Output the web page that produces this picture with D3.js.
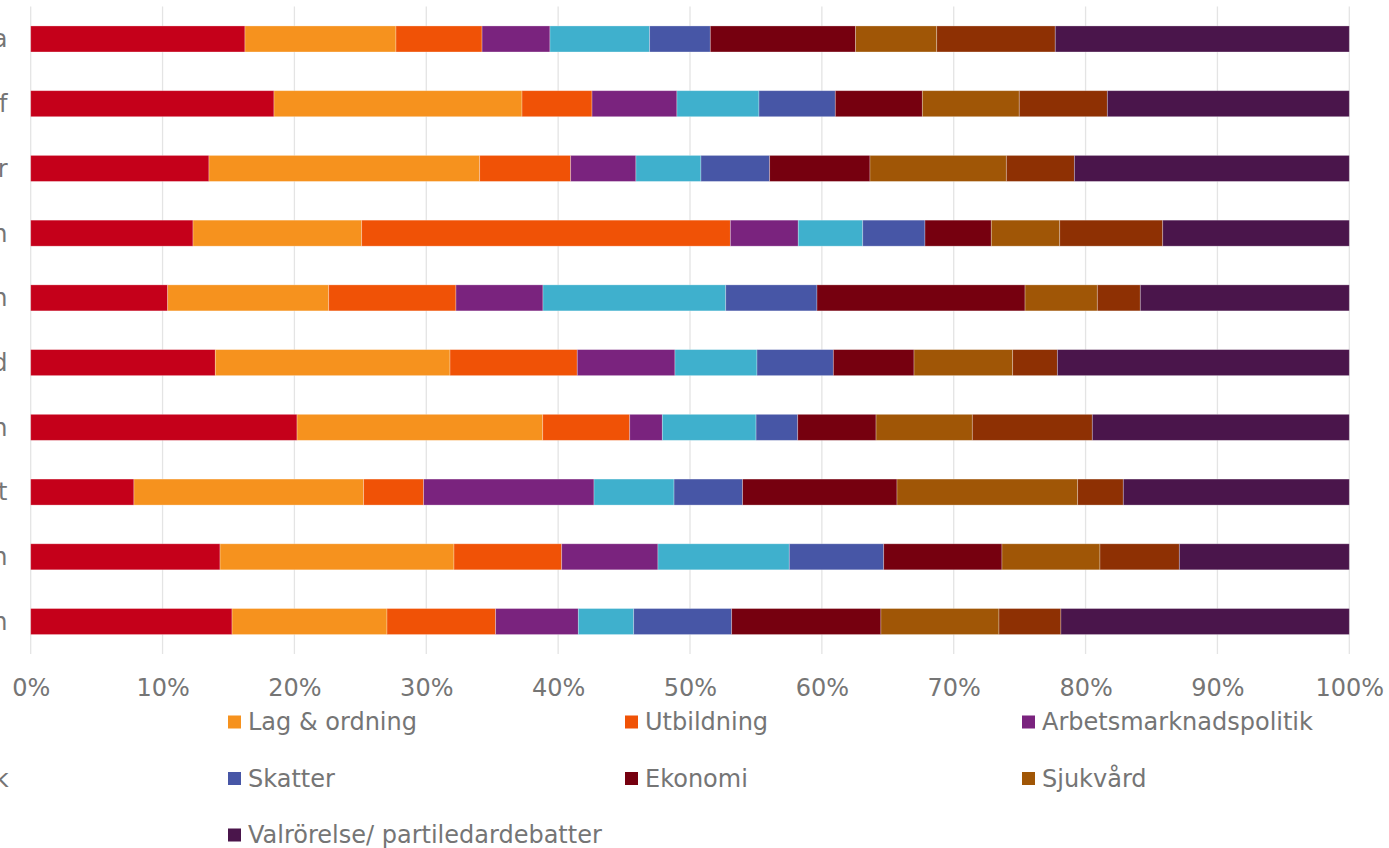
<!DOCTYPE html>
<html>
<head>
<meta charset="utf-8">
<script src="https://cdn.jsdelivr.net/npm/d3@7"></script>
<style>
  html, body { margin: 0; padding: 0; background: #fff; overflow: hidden; }
  svg { display: block; font-family: "DejaVu Sans", Verdana, sans-serif; }
</style>
</head>
<body>
<svg id="chart" width="1389" height="848"></svg>
<script>
// ---------- data ----------
const categories = ["Samtliga", "Annie Lööf", "Ebba Busch Thor", "Gustav Fridolin", "Isabella Lövin",
  "Jan Björklund", "Jimmie Åkesson", "Jonas Sjöstedt", "Ulf Kristersson", "Stefan Löfven"];

const seriesNames = ["Migration", "Lag & ordning", "Utbildning", "Arbetsmarknadspolitik", "Familjepolitik",
  "Skatter", "Ekonomi", "Sjukvård", "Miljö", "Valrörelse/ partiledardebatter"];

const migration   = [16.25, 18.45, 13.52, 12.31, 10.39, 14.00, 20.20, 7.83, 14.36, 15.27];
const lagOrdning  = [11.45, 18.81, 20.53, 12.79, 12.21, 17.80, 18.63, 17.42, 17.74, 11.75];
const utbildning  = [6.53, 5.31, 6.90, 27.96, 9.65, 9.65, 6.60, 4.55, 8.17, 8.24];
const arbetsmarknad = [5.15, 6.44, 4.95, 5.15, 6.60, 7.41, 2.47, 12.92, 7.30, 6.27];
const familj      = [7.56, 6.22, 4.93, 4.89, 13.86, 6.22, 7.11, 6.07, 9.96, 4.20];
const skatter     = [4.60, 5.79, 5.21, 4.72, 6.92, 5.79, 3.16, 5.20, 7.16, 7.43];
const ekonomi     = [11.02, 6.60, 7.61, 5.03, 15.78, 6.12, 5.94, 11.71, 8.97, 11.32];
const sjukvard    = [6.15, 7.35, 10.34, 5.19, 5.48, 7.48, 7.30, 13.70, 7.43, 8.95];
const miljo       = [8.99, 6.68, 5.16, 7.81, 3.26, 3.39, 9.10, 3.46, 6.02, 4.70];
const valrorelse  = [22.30, 18.35, 20.85, 14.15, 15.85, 22.14, 19.49, 17.14, 12.89, 21.87];

const colors = ["#C5001A", "#F6921E", "#F05206", "#7A237E", "#3FB0CD",
  "#4756A6", "#76000F", "#A05606", "#8E3003", "#4A154B"];

const tickValues = [0, 0.1, 0.2, 0.3, 0.4, 0.5, 0.6, 0.7, 0.8, 0.9, 1.0];

// ---------- build table ----------
const seriesValues = [migration, lagOrdning, utbildning, arbetsmarknad, familj,
  skatter, ekonomi, sjukvard, miljo, valrorelse];
const table = categories.map((c, i) => {
  const row = { cat: c };
  seriesNames.forEach((s, j) => row[s] = seriesValues[j][i]);
  return row;
});
const stacked = d3.stack().keys(seriesNames).offset(d3.stackOffsetExpand)(table);

// ---------- layout ----------
const svg = d3.select("#chart");
const textColor = "#757575";
const x = d3.scaleLinear().domain([0, 1]).range([30.7, 1349.3]);
const y = d3.scaleBand().domain(categories).range([6.6, 653.9]).paddingInner(0.598).paddingOuter(0.299);
const color = d3.scaleOrdinal().domain(seriesNames).range(colors);

// gridlines
svg.append("g").selectAll("line").data(tickValues).join("line")
  .attr("x1", d => x(d)).attr("x2", d => x(d))
  .attr("y1", 6.6).attr("y2", 653.9)
  .attr("stroke", "#e4e4e4").attr("stroke-width", 1.3);

// bars
svg.append("g").selectAll("g").data(stacked).join("g")
  .attr("fill", d => color(d.key))
  .selectAll("rect").data(d => d).join("rect")
  .attr("x", d => x(d[0]))
  .attr("y", d => y(d.data.cat))
  .attr("width", d => x(d[1]) - x(d[0]))
  .attr("height", y.bandwidth())
  .attr("stroke", "rgba(255,255,255,0.35)")
  .attr("stroke-width", 0.8);

// category labels
svg.append("g").selectAll("text").data(categories).join("text")
  .attr("x", 7.5)
  .attr("y", d => y(d) + y.bandwidth() / 2)
  .attr("dy", "0.35em")
  .attr("text-anchor", "end")
  .attr("font-size", 24)
  .attr("fill", textColor)
  .text(d => d);

// x axis
const xAxis = d3.axisBottom(x).tickValues(tickValues).tickFormat(d3.format(".0%"))
  .tickSize(0).tickPadding(9);
const gx = svg.append("g").attr("transform", "translate(0,670)").call(xAxis);
gx.select(".domain").remove();
gx.selectAll("text").attr("font-size", 24).attr("fill", textColor)
  .attr("font-family", "DejaVu Sans, Verdana, sans-serif");

// legend
const colX0 = -169, colStep = 397, rowY0 = 722, rowStep = 56.5, nCols = 4;
const leg = svg.append("g").selectAll("g").data(seriesNames).join("g")
  .attr("transform", (d, i) => `translate(${colX0 + (i % nCols) * colStep},${rowY0 + Math.floor(i / nCols) * rowStep})`);
leg.append("rect").attr("x", 0).attr("y", -6.5).attr("width", 13).attr("height", 13)
  .attr("fill", d => color(d));
leg.append("text").attr("x", 20).attr("dy", "0.35em")
  .attr("font-size", 24).attr("fill", textColor).text(d => d);
</script>
</body>
</html>
